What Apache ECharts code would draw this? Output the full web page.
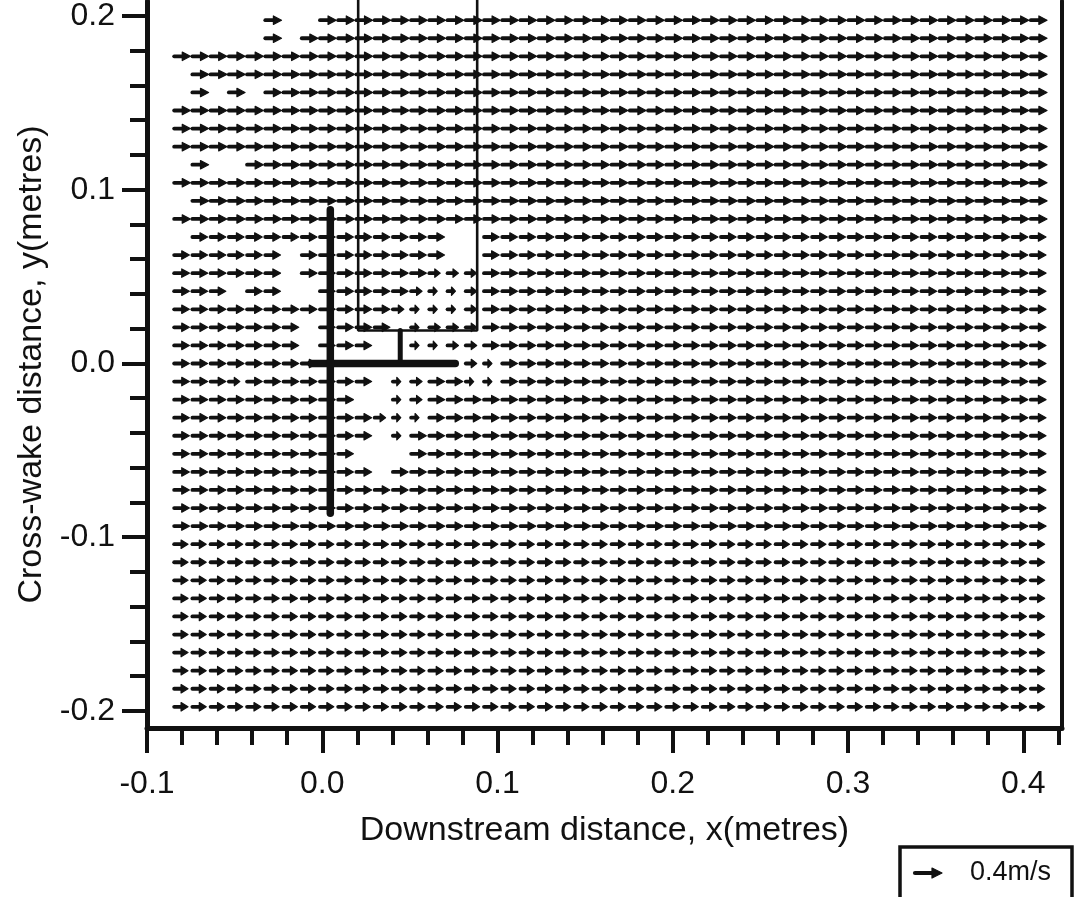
<!DOCTYPE html>
<html>
<head>
<meta charset="utf-8">
<script src="https://cdn.jsdelivr.net/npm/echarts@6/dist/echarts.min.js"></script>
<style>
  html, body { margin: 0; padding: 0; background: #fff; }
  #chart { width: 1080px; height: 897px; }
</style>
</head>
<body>
<div id="chart"></div>
<script>
// ---------------- data ----------------
// grid column positions (downstream distance, m)
const COLS_X = [-0.0845, -0.0741, -0.0637, -0.0533, -0.0429, -0.0325, -0.0221, -0.0117,
  -0.0013, 0.0091, 0.0195, 0.0299, 0.0403, 0.0507, 0.0611, 0.0715, 0.0819, 0.0923,
  0.1027, 0.1131, 0.1235, 0.1339, 0.1443, 0.1547, 0.1651, 0.1755, 0.1859, 0.1963,
  0.2067, 0.2171, 0.2275, 0.2379, 0.2483, 0.2587, 0.2691, 0.2795, 0.2899, 0.3003,
  0.3107, 0.3211, 0.3315, 0.3419, 0.3523, 0.3627, 0.3731, 0.3835, 0.3939, 0.4043];
// grid row positions (cross-wake distance, m), top to bottom
const ROWS_Y = [0.1976, 0.1872, 0.1768, 0.1664, 0.156, 0.1456, 0.1352, 0.1248, 0.1144, 0.104,
  0.0936, 0.0832, 0.0728, 0.0624, 0.052, 0.0416, 0.0312, 0.0208, 0.0104, 0,
  -0.0104, -0.0208, -0.0312, -0.0416, -0.052, -0.0624, -0.0728, -0.0832, -0.0936, -0.104,
  -0.1144, -0.1248, -0.1352, -0.1456, -0.156, -0.1664, -0.1768, -0.1872, -0.1976];
// typical speed of each row (m/s)
const ROW_SPEED = [0.24, 0.24, 0.24, 0.24, 0.24, 0.24, 0.24, 0.24, 0.24, 0.24,
  0.24, 0.24, 0.225, 0.225, 0.225, 0.225, 0.225, 0.225, 0.225, 0.225,
  0.225, 0.225, 0.225, 0.225, 0.225, 0.225, 0.225, 0.225, 0.225, 0.205,
  0.205, 0.205, 0.205, 0.205, 0.205, 0.205, 0.205, 0.205, 0.205];
// per-cell code: 0 = no vector, 1 = full, 2 = reduced, 3 = small ('|' is only a separator)
const ROW_CODES = [
  "00000|1|00|1111111111|1111111111|1111111111|1111111111",
  "00000|1|0|1|1111111111|1111111111|1111111111|1111111111",
  "1111111111|1111111111|1111111111|1111111111|11111111",
  "0|1111111111|1111111111|1111111111|1111111111|1111111",
  "01010|1111111111|1111111111|1111111111|1111111111|111",
  "1111111111|1111111111|1111111111|1111111111|11111111",
  "1111111111|1111111111|1111111111|1111111111|11111111",
  "1111111111|1111111111|1111111111|1111111111|11111111",
  "0100|1111111111|1111111111|1111111111|1111111111|1111",
  "1111111111|1111111111|1111111111|1111111111|11111111",
  "0|1111111111|1111111111|1111111111|1111111111|1111111",
  "1111111111|1111111111|1111111111|1111111111|11111111",
  "0|1111111111|1111|00|1111111111|1111111111|1111111111|1",
  "111111|0|11111111|00|1111111111|1111111111|1111111111|1",
  "111111|0|1111111|222|1111111111|1111111111|1111111111|1",
  "111|0|11|00|11111|2332|1111111111|1111111111|1111111111|1",
  "1111111111|11|2|333|2|1111111111|1111111111|1111111111|1",
  "1111111|0|1111|0|3222|1111111111|1111111111|1111111111|1",
  "1111111|0|111|00|3322|1111111111|1111111111|1111111111|1",
  "11111111|00000000|23|1111111111|1111111111|1111111111",
  "111|2|1111111|0|3|2|11|33|1111111111|1111111111|1111111111",
  "1111111111|00|32|1111111111|1111111111|1111111111|1111",
  "1111111111|1|233|1111111111|1111111111|1111111111|1111",
  "1111111111|1|0|3|1111111111|1111111111|1111111111|11111",
  "1111111111|000|1111111111|1111111111|1111111111|11111",
  "1111111111|1|0|1111111111|1111111111|1111111111|111111",
  "1111111111|1111111111|1111111111|1111111111|11111111",
  "1111111111|1111111111|1111111111|1111111111|11111111",
  "1111111111|1111111111|1111111111|1111111111|11111111",
  "1111111111|1111111111|1111111111|1111111111|11111111",
  "1111111111|1111111111|1111111111|1111111111|11111111",
  "1111111111|1111111111|1111111111|1111111111|11111111",
  "1111111111|1111111111|1111111111|1111111111|11111111",
  "1111111111|1111111111|1111111111|1111111111|11111111",
  "1111111111|1111111111|1111111111|1111111111|11111111",
  "1111111111|1111111111|1111111111|1111111111|11111111",
  "1111111111|1111111111|1111111111|1111111111|11111111",
  "1111111111|1111111111|1111111111|1111111111|11111111",
  "1111111111|1111111111|1111111111|1111111111|11111111"
];
const CODE_FACTOR = { '1': 1, '2': 0.72, '3': 0.52 };

// model outline (m)
const BOX_OUTLINE = [[0.0205, 0.24], [0.0205, 0.019], [0.0884, 0.019], [0.0884, 0.24]];
const STEM = [[0.0445, 0.019], [0.0445, 0]];
const PLATE_H = [[-0.0063, 0], [0.0759, 0]];
const PLATE_V = [[0.0046, 0.0885], [0.0046, -0.0862]];

// ticks
const X_MINOR_TICKS = [-0.1, -0.08, -0.06, -0.04, -0.02, 0, 0.02, 0.04, 0.06, 0.08, 0.1, 0.12, 0.14,
  0.16, 0.18, 0.2, 0.22, 0.24, 0.26, 0.28, 0.3, 0.32, 0.34, 0.36, 0.38, 0.4, 0.42];
const X_MAJOR_TICKS = [-0.1, 0, 0.1, 0.2, 0.3, 0.4];
const Y_MINOR_TICKS = [-0.2, -0.18, -0.16, -0.14, -0.12, -0.1, -0.08, -0.06, -0.04, -0.02, 0,
  0.02, 0.04, 0.06, 0.08, 0.1, 0.12, 0.14, 0.16, 0.18, 0.2];
const Y_MAJOR_TICKS = [-0.2, -0.1, 0, 0.1, 0.2];
const REF_SPEED = 0.4;

// ---------------- chart ----------------
const ARROW_SCALE = 0.0385; // plot metres per m/s
const INK = '#111';
const FONT = 'Liberation Sans, Arial, Helvetica, sans-serif';

const vectors = [];
ROW_CODES.forEach((row, i) => {
  const codes = row.replace(/\|/g, '');
  for (let j = 0; j < COLS_X.length; j++) {
    const c = codes[j] || '1';
    if (c === '0') continue;
    vectors.push([COLS_X[j], ROWS_Y[i], ROW_SPEED[i] * CODE_FACTOR[c]]);
  }
});

function arrowShape(a, b, head, hw, lw, z) {
  const dx = b[0] - a[0], dy = b[1] - a[1];
  const len = Math.hypot(dx, dy) || 1;
  const ux = dx / len, uy = dy / len;
  const h = Math.min(head, len * 0.5);
  const bx = b[0] - ux * h, by = b[1] - uy * h;
  const el = [
    { type: 'line', shape: { x1: a[0], y1: a[1], x2: bx + ux, y2: by + uy },
      style: { stroke: INK, lineWidth: lw, lineCap: 'round' } },
    { type: 'polygon', shape: { points: [[b[0], b[1]], [bx - uy * hw, by + ux * hw], [bx + uy * hw, by - ux * hw]] },
      style: { fill: INK, stroke: INK, lineWidth: 1.2, lineJoin: 'round' } }
  ];
  if (z != null) el.forEach(e => { e.z = z; });
  return el;
}

const chart = echarts.init(document.getElementById('chart'), null, { renderer: 'canvas' });

const lineSeries = (data, width) => ({
  type: 'line', data, xAxisIndex: 0, yAxisIndex: 0, symbol: 'none', showSymbol: false,
  lineStyle: { color: INK, width, cap: 'round' }, z: 5, clip: true, silent: true, animation: false
});

chart.setOption({
  animation: false,
  backgroundColor: '#fff',
  grid: { left: 147, right: 18, top: 0, bottom: 169, containLabel: false },
  xAxis: [
    {
      type: 'value', min: -0.1, max: 0.4221, position: 'bottom',
      axisLine: { show: true, onZero: false, lineStyle: { color: INK, width: 5 } },
      axisTick: { show: true, customValues: X_MINOR_TICKS, length: 17, lineStyle: { color: INK, width: 4 } },
      axisLabel: { show: false }, splitLine: { show: false }
    },
    {
      type: 'value', min: -0.1, max: 0.4221, position: 'bottom',
      axisLine: { show: false, onZero: false },
      axisTick: { show: true, customValues: X_MAJOR_TICKS, length: 25, lineStyle: { color: INK, width: 4 } },
      axisLabel: { show: true, customValues: X_MAJOR_TICKS, margin: 40, color: INK, fontSize: 32, fontFamily: FONT,
        formatter: v => Number(v).toFixed(1) },
      splitLine: { show: false },
      name: 'Downstream distance, x(metres)', nameLocation: 'middle', nameGap: 86,
      nameTextStyle: { color: INK, fontSize: 34, fontFamily: FONT }
    }
  ],
  yAxis: [
    {
      type: 'value', min: -0.2098, max: 0.2086, position: 'left',
      axisLine: { show: true, onZero: false, lineStyle: { color: INK, width: 5 } },
      axisTick: { show: true, customValues: Y_MINOR_TICKS, length: 17, lineStyle: { color: INK, width: 4 } },
      axisLabel: { show: false }, splitLine: { show: false }
    },
    {
      type: 'value', min: -0.2098, max: 0.2086, position: 'left',
      axisLine: { show: false, onZero: false },
      axisTick: { show: true, customValues: Y_MAJOR_TICKS, length: 25, lineStyle: { color: INK, width: 4 } },
      axisLabel: { show: true, customValues: Y_MAJOR_TICKS, margin: 32, color: INK, fontSize: 32, fontFamily: FONT,
        formatter: v => Number(v).toFixed(1) },
      splitLine: { show: false },
      name: 'Cross-wake distance, y(metres)', nameLocation: 'middle', nameGap: 96, nameRotate: 90,
      nameTextStyle: { color: INK, fontSize: 34, fontFamily: FONT }
    },
    {
      type: 'value', min: -0.2098, max: 0.2086, position: 'right',
      axisLine: { show: true, onZero: false, lineStyle: { color: INK, width: 4 } },
      axisTick: { show: false }, axisLabel: { show: false }, splitLine: { show: false }
    }
  ],
  series: [
    {
      type: 'custom', xAxisIndex: 0, yAxisIndex: 0, data: vectors,
      encode: { x: 0, y: 1 }, silent: true, z: 3,
      renderItem: (params, api) => {
        const x = api.value(0), y = api.value(1), s = api.value(2);
        const a = api.coord([x, y]);
        const b = api.coord([x + s * ARROW_SCALE, y]);
        return { type: 'group', children: arrowShape(a, b, 8.5, 4.2, 3.8) };
      }
    },
    lineSeries(BOX_OUTLINE, 2.6),
    lineSeries(STEM, 5),
    lineSeries(PLATE_H, 7.5),
    lineSeries(PLATE_V, 7.5)
  ]
});

// reference-vector key, sized through the x scale
let keyLen = chart.convertToPixel({ xAxisIndex: 0 }, REF_SPEED * ARROW_SCALE) - chart.convertToPixel({ xAxisIndex: 0 }, 0);
if (!isFinite(keyLen) || keyLen <= 0) keyLen = 27;
const kx = 915, ky = 873;
chart.setOption({
  graphic: [
    { type: 'rect', z: 10, shape: { x: 900, y: 847, width: 172, height: 70 },
      style: { fill: '#fff', stroke: INK, lineWidth: 3.5 } },
    ...arrowShape([kx, ky], [kx + keyLen, ky], 10, 5, 4.2, 11),
    { type: 'text', z: 11, style: { text: REF_SPEED + 'm/s', x: 970, y: ky, verticalAlign: 'middle', align: 'left',
      fontSize: 27, fontFamily: FONT, fill: INK } }
  ]
});
</script>
</body>
</html>
